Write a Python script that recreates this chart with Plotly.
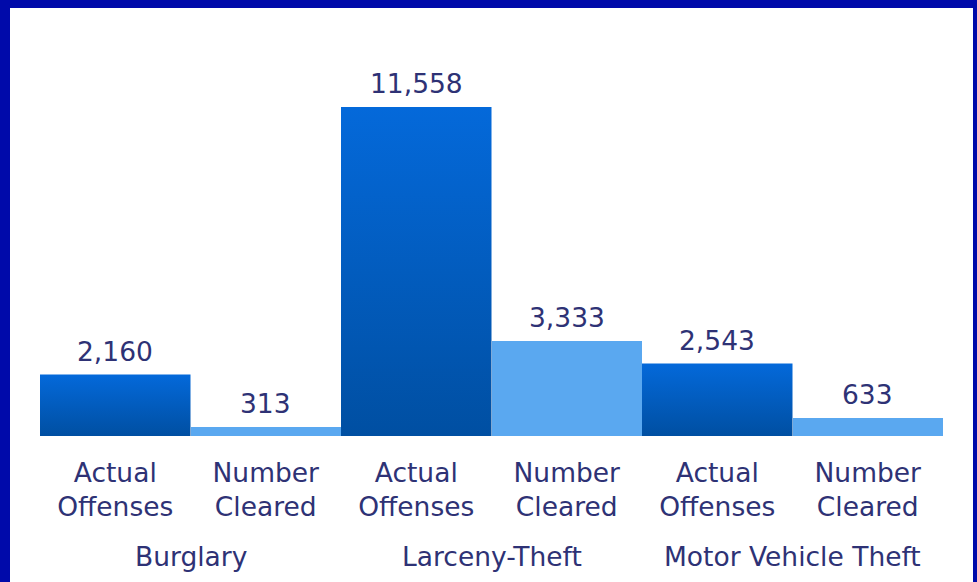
import plotly.graph_objects as go

crimes = ["Burglary", "Larceny-Theft", "Motor Vehicle Theft"]
actual_offenses = [2160, 11558, 2543]
number_cleared = [313, 3333, 633]
bar_labels = ["Actual<br>Offenses", "Number<br>Cleared"]

W, H = 977, 582
L, R, T, B = 40, 34, 20, 146
plot_h = H - T - B
plot_w = W - L - R

font_fam = "DejaVu Sans, Verdana, sans-serif"
txt_col = "#2E3275"
FS = 26.5
frame_col = "#000AAA"

x_actual = [2 * i for i in range(len(crimes))]
x_cleared = [2 * i + 1 for i in range(len(crimes))]

fig = go.Figure()

# Actual offenses: bars drawn as gradient-filled rectangles on data axes
for xv, v in zip(x_actual, actual_offenses):
    fig.add_trace(go.Scatter(
        x=[xv - 0.5, xv + 0.5, xv + 0.5, xv - 0.5, xv - 0.5],
        y=[0, 0, v, v, 0],
        mode="lines", line=dict(width=0), fill="toself",
        fillgradient=dict(type="vertical",
                          colorscale=[[0, "#004FA2"], [1, "#0469DA"]]),
        hoverinfo="skip", showlegend=False))

fig.add_trace(go.Bar(
    x=x_cleared, y=number_cleared, width=1.0,
    marker=dict(color="#5AA8F0", line=dict(width=0)),
    hoverinfo="skip"))

for xs, vals in ((x_actual, actual_offenses), (x_cleared, number_cleared)):
    for xv, v in zip(xs, vals):
        fig.add_annotation(x=xv, y=v, xref="x", yref="y", text=f"{v:,}",
                           showarrow=False, yanchor="bottom", yshift=6,
                           font=dict(size=FS, color=txt_col, family=font_fam))

tickvals = []
ticktext = []
for i in range(len(crimes)):
    tickvals += [2 * i, 2 * i + 1]
    ticktext += bar_labels

for i, c in enumerate(crimes):
    fig.add_annotation(x=2 * i + 0.5, xref="x", y=(436 - 556) / plot_h, yref="paper",
                       text=c, showarrow=False, yanchor="middle",
                       font=dict(size=FS, color=txt_col, family=font_fam))

# blue frame (top, left, right)
def px2x(p):
    return (p - L) / plot_w

def py2y(p):
    return (H - B - p) / plot_h

for x0, x1, y0, y1, col in ((0, W, 8, 0, frame_col), (0, 10, H, 0, frame_col),
                            (973, W, H, 0, frame_col), (10, 973, H + 10, 575, "white")):
    fig.add_shape(type="rect", xref="paper", yref="paper", layer="above",
                  x0=px2x(x0), x1=px2x(x1), y0=py2y(y0), y1=py2y(y1),
                  fillcolor=col, line=dict(width=0))

fig.update_layout(
    width=W, height=H,
    margin=dict(l=L, r=R, t=T, b=B),
    paper_bgcolor="white", plot_bgcolor="white",
    showlegend=False, barmode="overlay", bargap=0,
    xaxis=dict(range=[-0.5, 5.5], tickvals=tickvals, ticktext=ticktext,
               showgrid=False, zeroline=False, showline=False, ticks="",
               ticklabelstandoff=18,
               tickfont=dict(size=FS, color=txt_col, family=font_fam)),
    yaxis=dict(range=[0, 11558 * plot_h / 329], visible=False, showgrid=False),
)
fig.write_html("out.html", config={"displayModeBar": False},
               post_script="document.body.style.margin='0px';document.body.style.background='white';")
